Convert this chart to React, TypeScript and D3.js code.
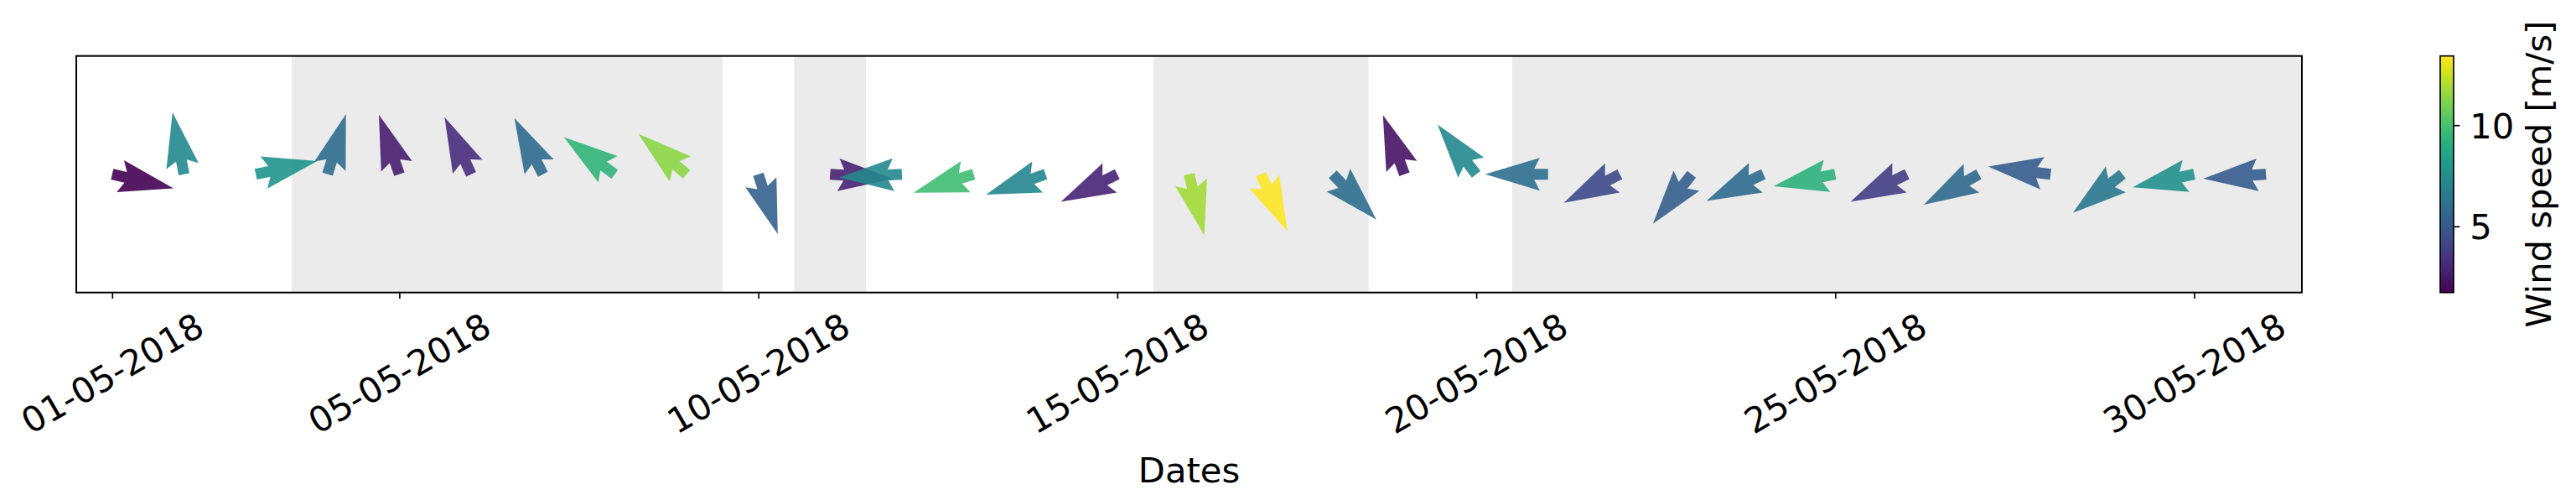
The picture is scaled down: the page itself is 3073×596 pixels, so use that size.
import * as d3 from "d3";
import { useEffect, useRef } from "react";

// one arrow per day, tail at midnight
const dates = d3.range(1, 32).map((d) => `2018-05-${String(d).padStart(2, "0")}`);
// direction the arrow points to, degrees clockwise from north
const bearing = [
  103, 349.5, 78, 17, 341, 335, 333, 306, 310, 162, 94, 267, 253, 251, 244, 166,
  155, 136, 340, 322, 270, 243, 218, 245, 259, 244, 241, 277, 232, 258, 266,
];
// wind speed [m/s]
const speed = [
  1.73, 7.2, 7.8, 5.9, 2.7, 3.25, 5.8, 9.4, 11.4, 5.3, 2.8, 7.2, 9.8, 7.1, 2.9,
  11.8, 13.42, 5.9, 2.3, 7.2, 6.0, 4.3, 5.2, 5.8, 9.2, 3.8, 5.7, 5.1, 6.4, 7.6, 5.1,
];
const shadeStart = ["2018-05-03 12:00", "2018-05-10 12:00", "2018-05-15 12:00", "2018-05-20 12:00"];
const shadeEnd = ["2018-05-09 12:00", "2018-05-11 12:00", "2018-05-18 12:00", "2018-05-31 12:00"];
const xTicks = ["2018-05-01", "2018-05-05", "2018-05-10", "2018-05-15", "2018-05-20", "2018-05-25", "2018-05-30"];
const xDomain = ["2018-04-30 12:00", "2018-05-31 12:00"];
const cbarTicks = [5, 10];

const WIDTH = 3073;
const HEIGHT = 596;
const PLOT = { left: 91, right: 2746, top: 66.7, bottom: 348.7 };
const CBAR = { left: 2911, right: 2927 };
const FONT = 41.7;
const TICK = 7.3;

export default function App() {
  const svgRef = useRef<SVGSVGElement>(null);

  useEffect(() => {
    const svg = d3.select(svgRef.current);
    svg.selectAll("*").remove();

    const parseDay = d3.timeParse("%Y-%m-%d");
    const parseTime = d3.timeParse("%Y-%m-%d %H:%M");

    const x = d3
      .scaleTime()
      .domain(xDomain.map((s) => parseTime(s)!))
      .range([PLOT.left, PLOT.right]);
    const y = d3.scaleLinear().domain([-1, 1]).range([PLOT.bottom, PLOT.top]);

    const [sMin, sMax] = d3.extent(speed) as [number, number];
    const color = d3.scaleSequential(d3.interpolateViridis).domain([sMin, sMax]);

    // shaded periods
    svg
      .append("g")
      .selectAll("rect")
      .data(shadeStart.map((s, i) => [parseTime(s)!, parseTime(shadeEnd[i])!]))
      .join("rect")
      .attr("x", (d) => x(d[0]))
      .attr("width", (d) => x(d[1]) - x(d[0]))
      .attr("y", PLOT.top)
      .attr("height", PLOT.bottom - PLOT.top)
      .attr("fill", "#ebebeb");

    // quiver-style arrows, tail at the point, unit length
    const L = 75;
    const arrowPts: [number, number][] = [
      [0, -6.5],
      [16.5, -6.5],
      [10, -19.5],
      [L, 0],
      [10, 19.5],
      [16.5, 6.5],
      [0, 6.5],
    ];
    const arrowPath = "M" + arrowPts.map((p) => p.join(",")).join("L") + "Z";

    svg
      .append("g")
      .selectAll("path")
      .data(dates.map((d, i) => ({ date: parseDay(d)!, dir: bearing[i], ws: speed[i] })))
      .join("path")
      .attr("d", arrowPath)
      .attr("transform", (d) => `translate(${x(d.date)},${y(0)}) rotate(${d.dir - 90})`)
      .attr("fill", (d) => color(d.ws))
      .attr("fill-opacity", 0.9);

    // frame
    svg
      .append("rect")
      .attr("x", PLOT.left)
      .attr("y", PLOT.top)
      .attr("width", PLOT.right - PLOT.left)
      .attr("height", PLOT.bottom - PLOT.top)
      .attr("fill", "none")
      .attr("stroke", "black")
      .attr("stroke-width", 2);

    // x axis: ticks from d3, labels rotated 30deg and centred under the tick
    const tickDates = xTicks.map((s) => parseDay(s)!);
    const gx = svg
      .append("g")
      .attr("transform", `translate(0,${PLOT.bottom})`)
      .call(d3.axisBottom(x).tickValues(tickDates).tickFormat(() => "").tickSize(TICK));
    gx.select(".domain").remove();
    gx.selectAll(".tick line").attr("stroke-width", 1.67);

    const fmt = d3.timeFormat("%d-%m-%Y");
    svg
      .append("g")
      .selectAll("text")
      .data(tickDates)
      .join("text")
      .attr("transform", (d) => `translate(${x(d)},${PLOT.bottom + 96}) rotate(-30)`)
      .attr("dy", "0.36em")
      .attr("text-anchor", "middle")
      .style("font-family", "DejaVu Sans")
      .style("font-size", `${FONT}px`)
      .attr("fill", "black")
      .text((d) => fmt(d));

    svg
      .append("text")
      .attr("x", (PLOT.left + PLOT.right) / 2)
      .attr("y", 575)
      .attr("text-anchor", "middle")
      .style("font-family", "DejaVu Sans")
      .style("font-size", `${FONT}px`)
      .text("Dates");

    // colorbar
    const defs = svg.append("defs");
    const grad = defs
      .append("linearGradient")
      .attr("id", "viridis")
      .attr("x1", 0)
      .attr("y1", 1)
      .attr("x2", 0)
      .attr("y2", 0);
    d3.range(0, 1.0001, 0.05).forEach((t) => {
      grad.append("stop").attr("offset", t).attr("stop-color", d3.interpolateViridis(t));
    });

    svg
      .append("rect")
      .attr("x", CBAR.left)
      .attr("y", PLOT.top)
      .attr("width", CBAR.right - CBAR.left)
      .attr("height", PLOT.bottom - PLOT.top)
      .attr("fill", "url(#viridis)")
      .attr("stroke", "black")
      .attr("stroke-width", 1.67);

    const cy = d3.scaleLinear().domain([sMin, sMax]).range([PLOT.bottom, PLOT.top]);
    const gc = svg
      .append("g")
      .attr("transform", `translate(${CBAR.right},0)`)
      .call(d3.axisRight(cy).tickValues(cbarTicks).tickSize(TICK).tickPadding(12));
    gc.select(".domain").remove();
    gc.selectAll(".tick line").attr("stroke-width", 1.67);
    gc.selectAll(".tick text")
      .attr("dy", "0.36em")
      .style("font-family", "DejaVu Sans")
      .style("font-size", `${FONT}px`)
      .attr("fill", "black");

    svg
      .append("text")
      .attr("transform", `translate(3043,${(PLOT.top + PLOT.bottom) / 2}) rotate(-90)`)
      .attr("text-anchor", "middle")
      .style("font-family", "DejaVu Sans")
      .style("font-size", `${FONT}px`)
      .text("Wind speed [m/s]");
  }, []);

  return (
    <svg
      ref={svgRef}
      width={WIDTH}
      height={HEIGHT}
      style={{ position: "absolute", left: 0, top: 0, background: "white" }}
    />
  );
}
